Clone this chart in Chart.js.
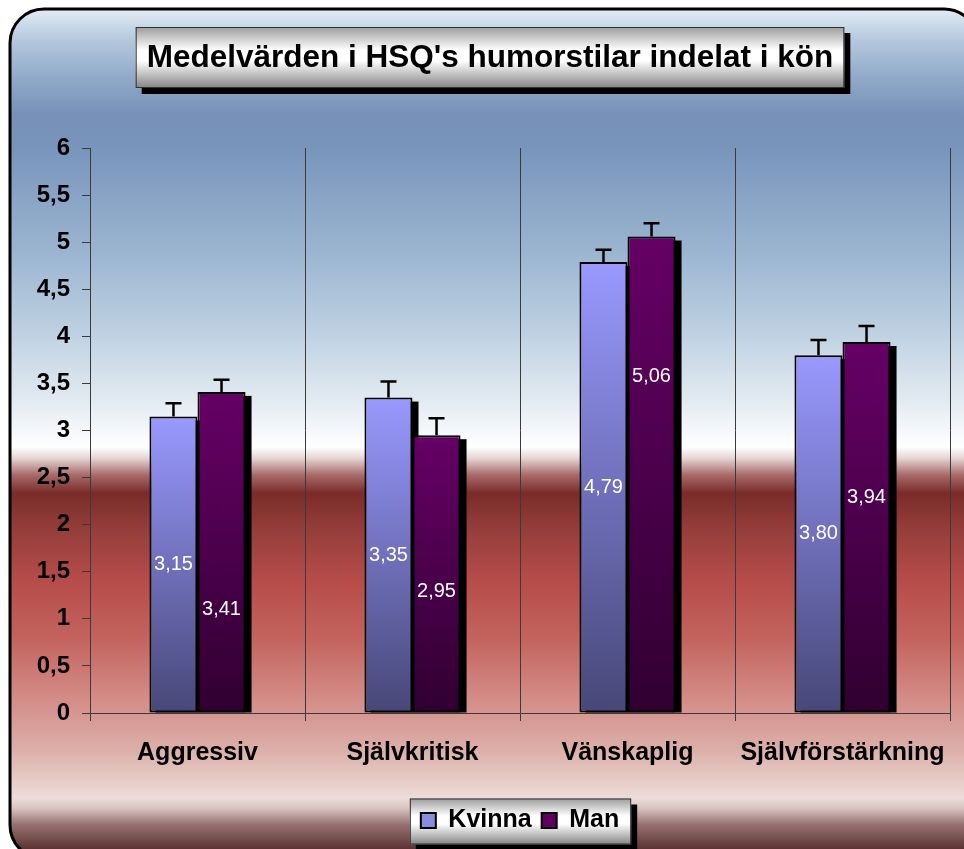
<!DOCTYPE html>
<html><head><meta charset="utf-8">
<script src="https://cdn.jsdelivr.net/npm/chart.js@4/dist/chart.umd.min.js"></script>
<style>html,body{margin:0;padding:0;background:#fff;overflow:hidden}</style>
</head><body>
<canvas id="c" width="964" height="849"></canvas>
<script>
// ---- data ----
const categories = ['Aggressiv', 'Självkritisk', 'Vänskaplig', 'Självförstärkning'];
const seriesNames = ['Kvinna', 'Man'];
const kvinnaValues = [3.15, 3.35, 4.79, 3.80];
const manValues = [3.41, 2.95, 5.06, 3.94];
const kvinnaErrors = [0.14, 0.17, 0.13, 0.16];
const manErrors = [0.13, 0.18, 0.14, 0.17];
const yMin = 0, yMax = 6, yStep = 0.5;
const titleText = "Medelvärden i HSQ's humorstilar indelat i kön";

// ---- style ----
const FONT = "'Liberation Sans', Arial, sans-serif";
const kvinnaTop = '#9999ff', kvinnaBottom = '#474778';
const manTop = '#660066', manBottom = '#300030';
const legendColors = ['#8c8cdc', '#5e005e'];
const labelFrac = [[0.5, 0.5, 0.5, 0.5], [0.32, 0.435, 0.705, 0.58]];

function barGradient(top, bottom) {
  return (ctx) => {
    if (ctx.type !== 'data') return top;
    const chart = ctx.chart;
    if (!chart.chartArea || !chart.scales.y) return top;
    const ys = chart.scales.y;
    const yt = ys.getPixelForValue(ctx.raw);
    const yb = ys.getPixelForValue(0);
    const g = chart.ctx.createLinearGradient(0, yt, 0, yb);
    g.addColorStop(0, top);
    g.addColorStop(1, bottom);
    return g;
  };
}

function boxGradient(ctx, y0, y1) {
  const g = ctx.createLinearGradient(0, y0, 0, y1);
  g.addColorStop(0, '#9c9c9c');
  g.addColorStop(0.38, '#ffffff');
  g.addColorStop(0.55, '#ffffff');
  g.addColorStop(1, '#848484');
  return g;
}

function drawBox(ctx, x, y, w, h) {
  ctx.fillStyle = '#000';
  ctx.fillRect(x + 6, y + 6, w, h);
  ctx.fillStyle = boxGradient(ctx, y, y + h);
  ctx.fillRect(x, y, w, h);
  ctx.lineWidth = 1;
  ctx.strokeStyle = '#303030';
  ctx.strokeRect(x + 0.5, y + 0.5, w - 1, h - 1);
}

const decorPlugin = {
  id: 'decor',
  beforeDraw(chart) {
    const ctx = chart.ctx;
    ctx.save();
    const g = ctx.createLinearGradient(0, 0, 0, 849);
    const stops = [
      [12, '#dde9f3'], [40, '#b4c8dd'], [75, '#93acca'], [115, '#7690b8'], [150, '#7a95bc'],
      [250, '#9ab4d0'], [330, '#bdd0e1'], [400, '#e2eaf1'], [440, '#fbfcfd'], [447, '#ffffff'],
      [458, '#e6d6d6'], [475, '#a86a6a'], [493, '#7a2c2a'], [530, '#953e3b'], [580, '#b54c4a'],
      [640, '#c4645f'], [700, '#d48d88'], [750, '#dcafa9'], [798, '#ecdcd8'], [808, '#d8c4c0'],
      [825, '#967070'], [849, '#5a3232']
    ];
    stops.forEach(([y, c]) => g.addColorStop(y / 849, c));
    ctx.beginPath();
    ctx.roundRect(10, 9, 968, 850, 34);
    ctx.fillStyle = g;
    ctx.fill();
    ctx.lineWidth = 3;
    ctx.strokeStyle = '#000';
    ctx.stroke();

    // title box + text
    ctx.font = 'bold 31.5px ' + FONT;
    const tw = ctx.measureText(titleText).width;
    const cx = 490, cy = 57;
    drawBox(ctx, cx - tw / 2 - 11, 27, tw + 22, 61);
    ctx.fillStyle = '#000';
    ctx.textAlign = 'center';
    ctx.textBaseline = 'middle';
    ctx.fillText(titleText, cx, cy + 1);

    // legend box
    const lg = chart.legend;
    if (lg && lg.legendHitBoxes && lg.legendHitBoxes.length) {
      const hb = lg.legendHitBoxes;
      let l = Infinity, r = -Infinity, t = Infinity, b = -Infinity;
      hb.forEach(h => { l = Math.min(l, h.left); r = Math.max(r, h.left + h.width); t = Math.min(t, h.top); b = Math.max(b, h.top + h.height); });
      const mid = (t + b) / 2;
      drawBox(ctx, l - 11, mid - 22, r - l + 23, 46);
    }
    ctx.restore();
  },
  beforeDatasetsDraw(chart) {
    const ctx = chart.ctx;
    ctx.save();
    ctx.fillStyle = '#000';
    chart.data.datasets.forEach((ds, i) => {
      const meta = chart.getDatasetMeta(i);
      meta.data.forEach(bar => {
        const p = bar.getProps(['x', 'y', 'base', 'width'], true);
        ctx.fillRect(p.x - p.width / 2 + 6, p.y + 4, p.width, p.base - p.y - 4);
      });
    });
    ctx.restore();
  },
  afterDatasetsDraw(chart) {
    const ctx = chart.ctx;
    const ys = chart.scales.y;
    const errs = [kvinnaErrors, manErrors];
    ctx.save();
    chart.data.datasets.forEach((ds, i) => {
      const meta = chart.getDatasetMeta(i);
      meta.data.forEach((bar, j) => {
        const p = bar.getProps(['x', 'y', 'base', 'width'], true);
        const v = ds.data[j];
        const ye = ys.getPixelForValue(v + errs[i][j]);
        ctx.strokeStyle = '#000';
        ctx.lineWidth = 2.5;
        ctx.beginPath();
        ctx.moveTo(p.x, p.y);
        ctx.lineTo(p.x, ye);
        ctx.moveTo(p.x - 8, ye);
        ctx.lineTo(p.x + 8, ye);
        ctx.stroke();
        ctx.fillStyle = '#fff';
        ctx.font = '20px ' + FONT;
        ctx.textAlign = 'center';
        ctx.textBaseline = 'middle';
        const ly = p.base - labelFrac[i][j] * (p.base - p.y);
        ctx.fillText(v.toFixed(2).replace('.', ','), p.x, ly);
      });
    });
    ctx.restore();
  }
};

new Chart(document.getElementById('c'), {
  type: 'bar',
  data: {
    labels: categories,
    datasets: [
      { label: seriesNames[0], data: kvinnaValues, backgroundColor: barGradient(kvinnaTop, kvinnaBottom),
        borderColor: '#000', borderWidth: 2, borderSkipped: false,
        categoryPercentage: 0.447, barPercentage: 1.0 },
      { label: seriesNames[1], data: manValues, backgroundColor: barGradient(manTop, manBottom),
        borderColor: '#000', borderWidth: 2, borderSkipped: false,
        categoryPercentage: 0.447, barPercentage: 1.0 }
    ]
  },
  options: {
    responsive: false,
    animation: false,
    devicePixelRatio: 1,
    layout: { padding: { left: 16, right: 14, top: 148, bottom: 6 } },
    plugins: {
      title: { display: false },
      tooltip: { enabled: false },
      legend: {
        display: true,
        position: 'bottom',
        fullSize: false,
        labels: {
          color: '#000',
          font: { family: FONT, size: 25, weight: 'bold' },
          boxWidth: 15,
          boxHeight: 15,
          padding: 10,
          generateLabels(chart) {
            return chart.data.datasets.map((ds, i) => ({
              text: ds.label,
              fillStyle: legendColors[i],
              strokeStyle: '#000',
              lineWidth: 2,
              fontColor: '#000',
              hidden: !chart.isDatasetVisible(i),
              datasetIndex: i
            }));
          }
        }
      }
    },
    scales: {
      x: {
        offset: true,
        grid: { offset: true, drawOnChartArea: true, drawTicks: true, tickLength: 8, color: '#3a3a3a', lineWidth: 1 },
        border: { display: true, color: '#3a3a3a', width: 1 },
        ticks: { color: '#000', font: { family: FONT, size: 25, weight: 'bold' }, padding: 17, maxRotation: 0, autoSkip: false },
        afterFit(scale) { scale.height = 85; }
      },
      y: {
        min: yMin, max: yMax,
        grid: { drawOnChartArea: false, drawTicks: true, tickLength: 8, color: '#3a3a3a' },
        border: { display: true, color: '#3a3a3a', width: 1 },
        ticks: {
          stepSize: yStep,
          color: '#000',
          font: { family: FONT, size: 24, weight: 'bold' },
          padding: 12,
          callback: (v) => String(v).replace('.', ',')
        },
        afterFit(scale) { scale.width = 74; }
      }
    }
  },
  plugins: [decorPlugin]
});
</script>
</body></html>
